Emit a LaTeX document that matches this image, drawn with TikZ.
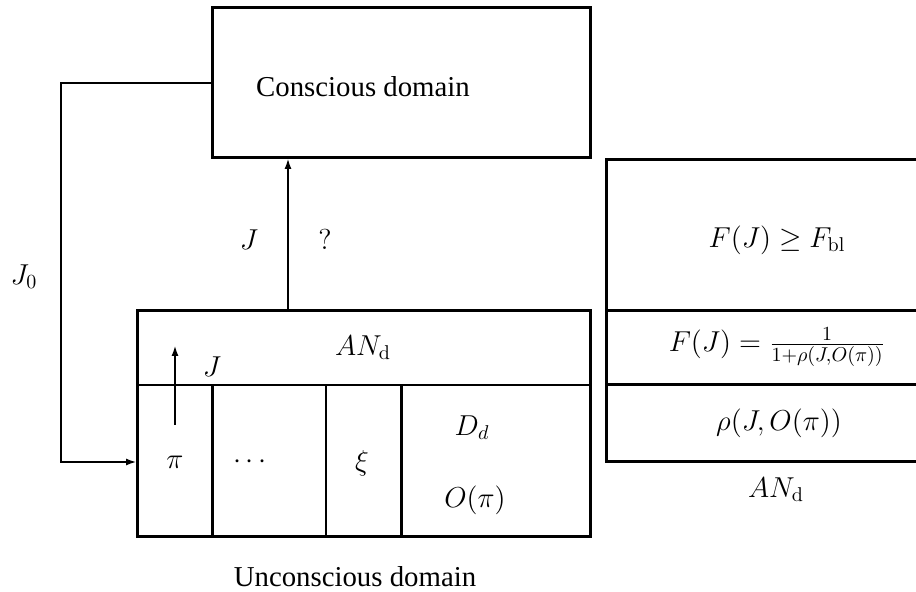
\documentclass[tikz,border=0pt]{standalone}
\usepackage[no-math]{fontspec}
\setmainfont{Liberation Serif}
\usetikzlibrary{arrows.meta}
\begin{document}
\begin{tikzpicture}[x=0.5pt,y=-0.5pt,
  box/.style={line width=1.5pt},
  ln/.style={line width=1.1pt},
  arr/.style={line width=1.1pt,-{Latex[length=5.5pt,width=3.5pt]}},
  lbl/.style={inner sep=0pt,font=\Large}]
\useasboundingbox (0,0) rectangle (916,592);
% boxes
\node[draw,box,minimum width=189pt,minimum height=75pt,inner sep=0pt] (cons) at (401,83) {};
\draw[box] (137,311) rectangle (590,537);
\draw[ln] (137,385) -- (590,385);
\draw[box] (212,385) -- (212,537);
\draw[ln] (326,385) -- (326,537);
\draw[box] (401,385) -- (401,537);
\draw[box] (918,160) -- (606,160) -- (606,462) -- (918,462);
\draw[box] (606,311) -- (918,311);
\draw[box] (606,385) -- (918,385);
% connector coordinates
\coordinate (upS) at (288,311);
\coordinate (upE) at (288,158);
\coordinate (lc1) at (61,83);
\coordinate (lc2) at (61,462);
\coordinate (piin) at (137,462);
\coordinate (smS) at (175,425);
\coordinate (smE) at (175,345);
\draw[arr] (upS) -- (upE);
\draw[arr] (cons.west) -- (lc1) -- (lc2) -- (piin);
\draw[arr] (smS) -- (smE);
% labels
\node[lbl] (tcons) at (363,87) {Conscious domain};
\node[lbl] (tJa) at (249,240) {$J$};
\node[lbl] (tq) at (325,240) {$?$};
\node[lbl] (tJ0) at (24,277) {$J_0$};
\node[lbl] (tAN) at (363,348) {$AN_{\mathrm{d}}$};
\node[lbl] (tJb) at (212,367) {$J$};
\node[lbl] (tpi) at (175,462) {$\pi$};
\node[lbl] (tdots) at (250,462) {$\cdots$};
\node[lbl] (txi) at (362,463) {$\xi$};
\node[lbl] (tDd) at (472,428) {$D_d$};
\node[lbl] (tO) at (475,500) {$O(\pi)$};
\node[lbl] (tF1) at (777,240) {$F(J)\geq F_{\mathrm{bl}}$};
\node[lbl] (tF2) at (777,347) {$F(J)=\frac{1}{1+\rho(J,O(\pi))}$};
\node[lbl] (trho) at (779,423) {$\rho(J,O(\pi))$};
\node[lbl] (tAN2) at (776,490) {$AN_{\mathrm{d}}$};
\node[lbl] (tunc) at (355,577) {Unconscious domain};
\end{tikzpicture}
\end{document}
